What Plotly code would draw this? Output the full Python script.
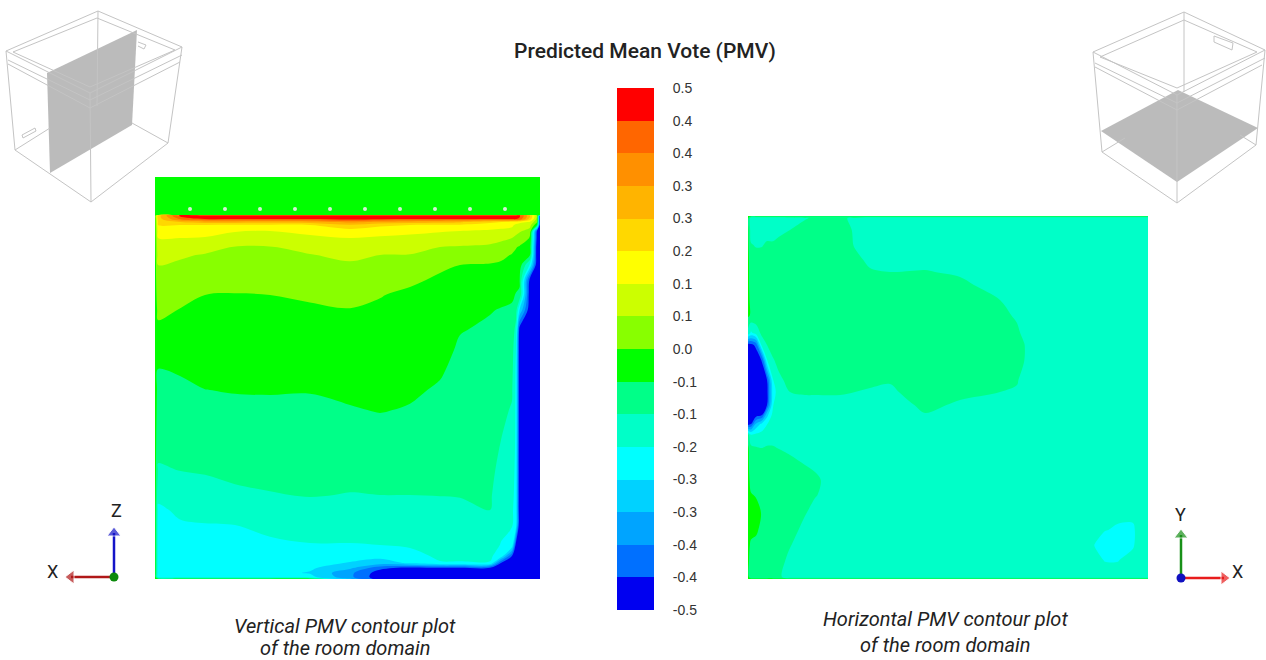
import plotly.graph_objects as go

# ---------- shared PMV scale ----------
pmv_ticks = [0.5, 0.4375, 0.375, 0.3125, 0.25, 0.1875, 0.125, 0.0625, 0.0,
             -0.0625, -0.125, -0.1875, -0.25, -0.3125, -0.375, -0.4375, -0.5]
pmv_labels = ["0.5", "0.4", "0.4", "0.3", "0.3", "0.2", "0.1", "0.1", "0.0",
              "-0.1", "-0.1", "-0.2", "-0.3", "-0.3", "-0.4", "-0.4", "-0.5"]
band_colors = ["#0000f0", "#0070ff", "#00a4ff", "#00d2ff", "#00ffff", "#00ffc8", "#00ff88", "#00ff00",
               "#88ff00", "#ccff00", "#ffff00", "#ffd800", "#ffb400", "#ff9000", "#ff6600", "#ff0000"]
band_edges = [-0.5, -0.4375, -0.375, -0.3125, -0.25, -0.1875, -0.125, -0.0625, 0.0,
              0.0625, 0.125, 0.1875, 0.25, 0.3125, 0.375, 0.4375, 0.5]
band_mids = [-0.46875, -0.40625, -0.34375, -0.28125, -0.21875, -0.15625, -0.09375, -0.03125,
             0.03125, 0.09375, 0.15625, 0.21875, 0.28125, 0.34375, 0.40625, 0.46875]

# ---------- vertical section: PMV per column, listed top to bottom ----------
v_x = [155, 158, 180, 205, 235, 270, 310, 350, 380, 410, 440, 460, 490, 501, 512, 516, 519.5, 530, 537, 540]
v_y = [177, 215, 215.5, 219, 222, 225, 231, 238, 247, 255, 265, 280, 295, 310, 330, 350, 370, 390, 410,
       440, 470, 495, 510, 525, 545, 556, 563, 568, 573, 577, 579]
strip = [-.03, -.03]
v155 = strip + [-.03]*29
v158 = strip + [.22,.22,.2,.1875,.155,.125,.105,.09,.0625,.047,.03,.012,-.012,-.04,-.065,-.08,-.09,-.108,-.13,-.17,-.2,-.215,-.22,-.22,-.22,-.22,-.22,-.22,-.03]
v180 = strip + [.46,.38,.25,.1875,.155,.125,.097,.07,.054,.035,.016,-.002,-.02,-.04,-.058,-.073,-.085,-.104,-.124,-.155,-.175,-.195,-.215,-.22,-.22,-.22,-.22,-.22,-.03]
v205 = strip + [.48,.44,.28,.1875,.155,.12,.085,.058,.044,.022,.0,-.011,-.024,-.037,-.05,-.063,-.076,-.098,-.119,-.15,-.17,-.19,-.215,-.22,-.225,-.225,-.225,-.22,-.03]
v235 = strip + [.48,.44,.28,.18,.13,.095,.06,.05,.035,.015,-.002,-.014,-.024,-.035,-.047,-.06,-.073,-.095,-.112,-.135,-.16,-.1875,-.21,-.22,-.225,-.23,-.23,-.22,-.03]
v270 = strip + [.48,.44,.27,.18,.125,.098,.06,.05,.038,.018,.0,-.01,-.022,-.033,-.045,-.06,-.07,-.09,-.108,-.128,-.15,-.17,-.2,-.215,-.22,-.225,-.23,-.22,-.03]
v310 = strip + [.48,.44,.28,.1875,.145,.11,.08,.06,.048,.028,.007,-.007,-.02,-.034,-.047,-.06,-.073,-.09,-.108,-.122,-.145,-.165,-.19,-.21,-.225,-.24,-.255,-.23,-.03]
v350 = strip + [.48,.46,.33,.24,.16,.125,.1,.075,.055,.035,.014,-.002,-.014,-.027,-.04,-.052,-.066,-.088,-.108,-.127,-.15,-.165,-.19,-.22,-.255,-.3,-.36,-.36,-.3]
v380 = strip + [.48,.45,.3,.2,.153,.116,.088,.0625,.048,.024,.002,-.007,-.018,-.03,-.04,-.05,-.06,-.086,-.108,-.125,-.145,-.16,-.1875,-.23,-.28,-.42,-.47,-.48,-.48]
v410 = strip + [.48,.44,.28,.1875,.135,.115,.09,.06,.04,.008,-.009,-.016,-.025,-.035,-.045,-.055,-.066,-.087,-.108,-.125,-.142,-.158,-.183,-.2,-.24,-.46,-.48,-.49,-.49]
v440 = strip + [.48,.44,.27,.18,.13,.1,.0625,.04,.008,-.007,-.015,-.023,-.034,-.045,-.057,-.068,-.079,-.095,-.111,-.124,-.137,-.152,-.171,-.181,-.19,-.45,-.48,-.49,-.49]
v460 = strip + [.48,.44,.26,.18,.125,.097,.058,.035,.0,-.014,-.028,-.042,-.06,-.07,-.077,-.085,-.092,-.103,-.115,-.123,-.134,-.15,-.17,-.18,-.19,-.45,-.48,-.49,-.49]
v490 = strip + [.48,.44,.2,.165,.115,.09,.05,.03,-.005,-.025,-.043,-.06,-.07,-.074,-.08,-.087,-.093,-.103,-.113,-.12,-.125,-.143,-.167,-.18,-.19,-.45,-.48,-.49,-.49]
v501 = strip + [.48,.44,.19,.155,.108,.08,.035,.015,-.01,-.03,-.05,-.065,-.075,-.085,-.095,-.105,-.112,-.125,-.138,-.148,-.155,-.175,-.19,-.21,-.44,-.48,-.49,-.49,-.49]
v512 = strip + [.48,.44,.17,.14,.1,.0625,.02,-.004,-.017,-.036,-.056,-.069,-.081,-.094,-.106,-.119,-.13,-.144,-.158,-.17,-.178,-.185,-.2,-.44,-.48,-.49,-.49,-.49,-.49]
v516 = strip + [.47,.44,.16,.11,.08,.05,.003,-.01,-.025,-.05,-.065,-.1,-.15,-.19,-.2,-.2,-.2,-.2,-.205,-.21,-.215,-.225,-.47,-.49,-.49,-.49,-.49,-.49,-.49]
v520 = strip + [.46,.42,.14,.1,.07,.035,-.005,-.015,-.03,-.055,-.07,-.25,-.47] + [-.49]*16
v530 = strip + [.25,.22,.12,.08,.04,-.005,-.035,-.06,-.2,-.47] + [-.49]*19
v537 = strip + [.05,.04,.01,-.05,-.44,-.46] + [-.49]*23
v540 = strip + [-.49]*29
v_cols = [v155, v158, v180, v205, v235, v270, v310, v350, v380, v410, v440, v460, v490, v501, v512, v516, v520, v530, v537, v540]

# ---------- horizontal section: PMV per column, listed top to bottom ----------
h_x = [748, 751, 756, 762, 767, 773, 779, 790, 805, 815, 840, 855, 870, 890, 910, 925, 960, 1000, 1017, 1024,
       1030, 1088, 1095, 1105, 1118, 1133, 1138, 1148]
h_y = [216, 218, 230, 245, 260, 272, 285, 300, 315, 333, 345, 360, 380, 392, 405, 415, 424, 435, 448, 465,
       480, 495, 513, 530, 545, 560, 577, 579]
E = [-.05]
A = [-.165]
S = [-.085]
h748 = [-.05]*9 + [-.15] + [-.47]*7 + [-.1] + [-.05]*10
h751 = E + [-.16,-.155,-.12,-.09,-.085,-.085,-.075,-.07,-.2,-.46] + [-.49]*5 + [-.44,-.18,-.11,-.09,-.075,-.06,-.045,-.05,-.07,-.085,-.09] + E
h756 = E + [-.165,-.16,-.13,-.1,-.09,-.085,-.085,-.085,-.16,-.42] + [-.49]*4 + [-.47,-.3,-.17,-.12,-.095,-.08,-.065,-.05,-.058,-.07,-.085,-.09] + E
h762 = E + [-.165,-.155,-.128,-.105,-.09,-.085,-.085,-.085,-.11,-.16,-.43,-.49,-.49,-.49,-.44,-.23,-.165,-.125,-.1,-.085,-.07,-.065,-.07,-.085,-.09,-.09] + E
h767 = E + [-.165,-.145,-.118,-.09,-.085,-.085,-.085,-.09,-.1,-.125,-.19,-.44,-.46,-.44,-.27,-.19,-.15,-.12,-.095] + S*6 + [-.09] + E
h773 = E + [-.16,-.14,-.12,-.095] + S*4 + [-.09,-.1,-.13,-.19,-.215,-.19,-.165,-.155,-.14,-.122,-.1] + S*5 + [-.09,-.09] + E
h779 = E + [-.16,-.135,-.113,-.09] + S*6 + [-.107,-.137,-.155,-.165,-.165,-.165,-.146,-.1265,-.101] + S*5 + [-.1,-.11] + E
h790 = E + [-.145,-.125,-.1025] + S*8 + [-.107,-.125,-.1445,-.1595,-.165,-.155,-.1355,-.11,-.0875,-.085,-.085,-.098,-.1205,-.143,-.165] + E
h805 = E + [-.128,-.11,-.0875] + S*8 + [-.1025,-.1205,-.14,-.155,-.16,-.155,-.15,-.125,-.1025,-.0935,-.1205,-.146] + A*3 + E
h815 = E + [-.12,-.105] + S*9 + [-.1025,-.1205,-.14,-.155,-.16,-.165,-.16,-.1355,-.113,-.1205,-.1475] + A*4 + E
h840 = E + [-.12,-.107] + S*9 + [-.1025,-.1205,-.14,-.155] + A*11 + E
h855 = E + [-.13,-.13,-.13,-.11,-.092] + S*6 + [-.107,-.125,-.1445,-.1625] + A*11 + E
h870 = E + A*2 + [-.1595,-.137,-.119,-.0995] + S*5 + [-.113,-.131,-.1505] + A*12 + E
h890 = E + A*3 + [-.143,-.125,-.1055] + S*4 + [-.089,-.119,-.137,-.1565] + A*12 + E
h910 = E + A*3 + [-.1415,-.1235,-.104] + S*5 + [-.092,-.11,-.13,-.1445,-.158] + A*10 + E
h925 = E + A*2 + [-.1625,-.14,-.122,-.1025] + S*6 + [-.0935,-.113,-.128,-.1415,-.158] + A*9 + E
h960 = E + A*3 + [-.15,-.1325,-.113,-.09] + S*4 + [-.095,-.113,-.1325,-.1475,-.16] + A*10 + E
h1000 = E + A*5 + [-.1475,-.125,-.1025,-.085,-.085,-.085,-.107,-.125,-.1445,-.1625] + A*11 + E
h1017 = E + A*6 + [-.16,-.137,-.11,-.092,-.0875,-.1175,-.1355,-.155] + A*12 + E
h1024 = E + A*8 + [-.143,-.12,-.122,-.155] + A*14 + E
h1030 = E + A*26 + E
h1088 = E + A*26 + E
h1095 = E + A*23 + [-.19,-.175,-.165] + E
h1105 = E + A*22 + [-.185,-.22,-.19,-.165] + E
h1118 = E + A*21 + [-.175,-.195,-.225,-.19,-.165] + E
h1133 = E + A*21 + [-.17,-.2,-.195,-.165,-.165] + E
h1138 = E + A*26 + E
h1148 = E + A*26 + E
h_cols = [h748, h751, h756, h762, h767, h773, h779, h790, h805, h815, h840, h855, h870, h890, h910, h925,
          h960, h1000, h1017, h1024, h1030, h1088, h1095, h1105, h1118, h1133, h1138, h1148]

assert all(len(c) == len(v_y) for c in v_cols) and len(v_cols) == len(v_x)
assert all(len(c) == len(h_y) for c in h_cols) and len(h_cols) == len(h_x)
v_z = [list(r) for r in zip(*v_cols)]
h_z = [list(r) for r in zip(*h_cols)]

# ---------- sensors in the ceiling strip ----------
sensor_x = [190, 225, 260, 295, 330, 365, 400, 435, 470, 505]
sensor_y = [209]*10

# ---------- room key drawings (canvas positions) ----------
wire_left = [
    [(98,11),(182,47),(90,93),(6,51),(98,11)],
    [(8,60),(90,100),(182,55)],
    [(8,64),(90,108),(180,62)],
    [(97,18),(175,50),(90,87),(13,52),(97,18)],
    [(6,51),(15,150),(91,202),(168,143),(182,47)],
    [(90,93),(91,202)],
    [(98,11),(97,106)],
    [(15,150),(50,128)],
    [(168,143),(132,123)],
    [(22,135),(35,128),(36,131),(23,138),(22,135)],
    [(138,42),(146,45),(144,49),(138,46)],
]
plane_left = [(47,73),(137,30),(132,125),(50,173),(47,73)]
wire_right = [
    [(1184,12),(1265,50),(1177,95),(1093,52),(1184,12)],
    [(1095,63),(1177,103),(1265,58)],
    [(1095,67),(1177,110),(1262,65)],
    [(1184,20),(1257,52),(1177,88),(1100,57),(1184,20)],
    [(1093,52),(1102,152),(1177,203),(1256,145),(1265,50)],
    [(1177,95),(1177,203)],
    [(1184,12),(1184,92)],
    [(1102,152),(1125,138)],
    [(1256,145),(1240,135)],
    [(1214,36),(1233,43),(1232,50),(1214,42),(1214,36)],
]
plane_right = [(1101,131),(1178,90),(1258,128),(1177,182),(1101,131)]

# ---------- text ----------
title_text = "Predicted Mean Vote (PMV)"
caption_left = ["Vertical PMV contour plot", "of the room domain"]
caption_right = ["Horizontal PMV contour plot", "of the room domain"]

W, H = 1266, 660
fracs = [0] + [(k+1)/17 for k in range(16)] + [1]
stops = [band_colors[0]] + band_colors + [band_colors[-1]]
scale = list(zip(fracs, stops))
levels = dict(start=-0.5, end=0.5, size=0.0625, coloring="fill", showlines=False)

stepped = []
for i, c in enumerate(band_colors):
    stepped += [[i/16, c], [(i+1)/16, c]]

fig = go.Figure()
fig.add_trace(go.Contour(
    x=v_x, y=v_y, z=v_z, xaxis="x", yaxis="y", contours=levels, colorscale=scale,
    line=dict(width=0, smoothing=1), showscale=False, hoverinfo="skip"))
fig.add_trace(go.Contour(
    x=h_x, y=h_y, z=h_z, xaxis="x2", yaxis="y2", contours=levels, colorscale=scale,
    line=dict(width=0, smoothing=1), showscale=False, hoverinfo="skip"))
fig.add_trace(go.Heatmap(
    x=[0, 1], y=band_edges, z=[[m] for m in band_mids], xaxis="x4", yaxis="y4",
    zmin=-0.5, zmax=0.5, colorscale=stepped, showscale=False, hoverinfo="skip"))
fig.add_trace(go.Scatter(x=sensor_x, y=sensor_y, xaxis="x", yaxis="y", mode="markers",
                         marker=dict(size=4, color="#d8f0d8"), hoverinfo="skip"))

def poly(points, **kw):
    fig.add_trace(go.Scatter(x=[p[0] for p in points], y=[p[1] for p in points], xaxis="x3", yaxis="y3",
                             mode="lines", hoverinfo="skip", **kw))

for pl in (plane_left, plane_right):
    poly(pl, fill="toself", fillcolor="rgba(170,170,170,0.8)", line=dict(width=0, color="rgba(0,0,0,0)"))
for group in (wire_left, wire_right):
    for seg in group:
        poly(seg, line=dict(color="#c4c4c4", width=1))

def arrow(x0, y0, x1, y1, color, symbol):
    fig.add_trace(go.Scatter(x=[x0, x1], y=[y0, y1], xaxis="x3", yaxis="y3", mode="lines+markers",
                             line=dict(color=color, width=2.5),
                             marker=dict(symbol=["circle", symbol], size=[0, 12], color=color),
                             hoverinfo="skip"))

arrow(114, 577, 71, 577, "#b01818", "triangle-left")
arrow(114, 577, 114, 533, "#1414c8", "triangle-up")
arrow(1181, 578, 1224, 578, "#e81c1c", "triangle-right")
arrow(1181, 578, 1181, 535, "#189018", "triangle-up")
fig.add_trace(go.Scatter(x=[114, 1181], y=[577, 578], xaxis="x3", yaxis="y3", mode="markers",
                         marker=dict(size=9, color=["#0c8a0c", "#1010c0"]), hoverinfo="skip"))

def label(x, y, text, size, italic=False, weight="normal"):
    fig.add_annotation(x=x, y=y, xref="x3", yref="y3", text=text, showarrow=False,
                       xanchor="center", yanchor="middle",
                       font=dict(family="Roboto", size=size, color="#222", weight=weight,
                                 style="italic" if italic else "normal"))

label(645, 51, title_text, 21, weight=500)
label(345, 626, caption_left[0], 20, True)
label(345, 648, caption_left[1], 20, True)
label(945, 619, caption_right[0], 20, True)
label(945, 645, caption_right[1], 20, True)
label(52, 571, "X", 18)
label(116, 510, "Z", 18)
label(1180, 514, "Y", 18)
label(1237, 571, "X", 18)

hidden = dict(visible=False, showgrid=False, zeroline=False, fixedrange=True, automargin=False)
fig.update_layout(
    width=W, height=H, autosize=False, showlegend=False,
    margin=dict(l=0, r=0, t=0, b=0), paper_bgcolor="white", plot_bgcolor="rgba(0,0,0,0)",
    xaxis=dict(domain=[155/W, 540/W], range=[155, 540], **hidden),
    yaxis=dict(domain=[1-579/H, 1-177/H], range=[579, 177], **hidden),
    xaxis2=dict(domain=[748/W, 1148/W], range=[748, 1148], anchor="y2", **hidden),
    yaxis2=dict(domain=[1-579/H, 1-216/H], range=[579, 216], anchor="x2", **hidden),
    xaxis3=dict(domain=[0, 1], range=[0, W], anchor="y3", **hidden),
    yaxis3=dict(domain=[0, 1], range=[H, 0], anchor="x3", **hidden),
    xaxis4=dict(domain=[617/W, 654/W], range=[0, 1], anchor="y4", **hidden),
    yaxis4=dict(domain=[1-610/H, 1-88/H], range=[-0.5, 0.5], anchor="x4", side="right", automargin=False,
                showgrid=False, zeroline=False, showline=False, fixedrange=True,
                tickmode="array", tickvals=pmv_ticks, ticktext=pmv_labels,
                ticks="outside", ticklen=15, tickcolor="rgba(0,0,0,0)",
                tickfont=dict(family="Liberation Sans", size=14, color="#333")),
)
fig.write_html("out.html", config=dict(displayModeBar=False),
               post_script="document.body.style.margin='0';document.documentElement.style.overflow='hidden';")
